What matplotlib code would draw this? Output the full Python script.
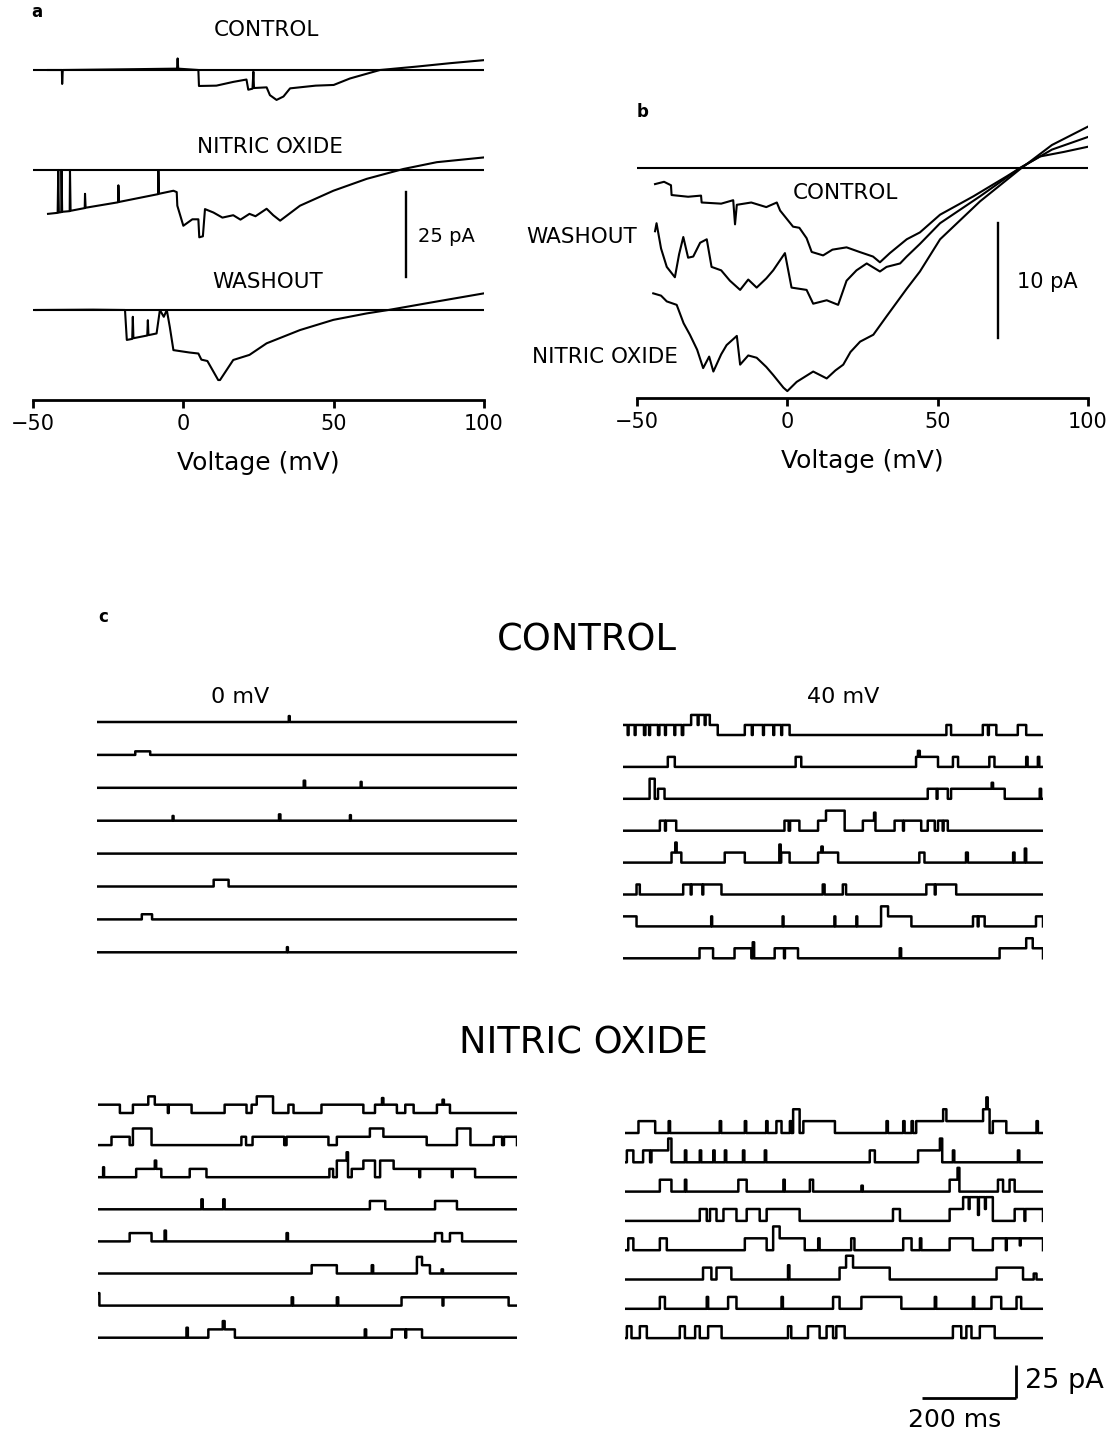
import matplotlib
matplotlib.use("Agg")
import matplotlib.pyplot as plt
import numpy as np

plt.rcParams['font.family'] = ['DejaVu Sans']

# ---------------- data ----------------
# panel a: ramp currents (mV, pA relative to the zero line)
a_ctrl_v = [-45, -40.4, -40.3, -40.1, -20, -2.1, -1.9, -1.7, 5.0, 5.2, 11, 16.6, 21.0, 21.6, 23.0, 23.3, 23.5,
            27.7, 28.8, 31.0, 33.3, 35.5, 44, 50, 55.4, 65.4, 77.6, 88.7, 100]
a_ctrl_i = [0, 0, -4.1, 0, 0.2, 0.4, 3.4, 0.4, 0, -4.7, -4.6, -3.5, -2.8, -5.8, -5.5, -0.5, -5.3,
            -5.1, -7.4, -8.8, -7.8, -5.4, -4.6, -4.4, -2.5, 0, 1.0, 2.0, 2.9]
a_no_v = [-45, -41.8, -41.6, -41.4, -40.6, -40.5, -40.3, -37.8, -37.7, -37.5, -32.8, -32.7, -32.5, -21.7, -21.6,
          -21.4, -8.4, -8.3, -8.1, -3.3, -2.2, -2.0, 0, 3, 5.0, 5.3, 6.5, 7.2, 10, 13, 16.6, 19, 22, 24, 27.7,
          29.9, 32.2, 38.8, 49.9, 61, 73.2, 84.3, 100]
a_no_i = [-12.9, -12.6, 0, -12.5, -12.4, 0, -12.3, -12.1, 0, -12.0, -11.2, -7, -11.1, -9.5, -4.5,
          -9.4, -7.1, -0.3, -7.0, -6.1, -6.5, -10.5, -16.4, -14.5, -14.5, -19.8, -19.5, -11.5, -12.5, -14.0, -13.3,
          -14.6, -12.9, -13.6, -11.4, -13.3, -14.9, -10.5, -6.1, -2.6, 0.3, 2.3, 3.7]
a_wash_v = [-49, -30, -19.4, -18.8, -17, -16.8, -16.6, -12, -11.8, -11.6, -8.9, -7.8, -6.5, -5.5, -4.5, -3.3,
            2, 5, 6.0, 8, 11.6, 12.2, 16.6, 22, 27.7, 38.8, 49.9, 61, 68.2, 84.3, 100]
a_wash_i = [0, 0.1, 0, -8.8, -8.5, -2, -8.3, -7.5, -3, -7.4, -6.9, 0, -2, 0, -5, -11.8,
            -12.5, -12.8, -14.6, -15, -20.6, -20.6, -14.7, -13.2, -9.8, -5.9, -2.9, -1.0, 0, 2.5, 4.9]

# panel b: averaged ramp currents
b_ctrl_v = [-44.0, -41, -38.7, -38.5, -33, -28.7, -28.5, -22, -18.0, -17.4, -16.8, -12, -7, -3.5, -2.4, 1.9, 4,
            6.4, 8.1, 11.9, 15, 19.7, 24, 28.5, 30.8, 34.1, 39.7, 44.1, 50.8, 61.9, 73, 77.4, 84, 92, 100]
b_ctrl_i = [-1.4, -1.2, -1.5, -2.35, -2.5, -2.4, -3.0, -3.1, -2.8, -4.9, -3.2, -3.0, -3.4, -3.0, -3.7, -5.1, -5.2,
            -6.1, -7.3, -7.6, -7.1, -6.9, -7.3, -7.7, -8.2, -7.4, -6.2, -5.6, -4.06, -2.46, -0.72, 0, 1.0, 1.4, 1.85]
b_wash_v = [-44.0, -43.5, -42, -40.1, -37.4, -36, -34.6, -33, -31.3, -29, -26.8, -25.2, -22, -19.1, -15.7, -13,
            -10.2, -7, -4.7, -0.8, 1.4, 6.4, 8.6, 13.1, 16.9, 19.7, 23, 26.4, 30.8, 33, 37.5, 39.7, 44.1, 50.8,
            64.1, 77.4, 88, 100]
b_wash_i = [-5.5, -4.8, -7.0, -8.6, -9.5, -7.5, -6.0, -7.8, -7.7, -6.5, -6.2, -8.6, -8.9, -9.8, -10.6, -9.7,
            -10.4, -9.6, -8.9, -7.4, -10.4, -10.6, -11.8, -11.5, -11.9, -9.8, -8.9, -8.3, -9.0, -8.6, -8.3, -7.7,
            -6.6, -4.8, -2.46, 0, 1.6, 2.7]
b_no_v = [-44.6, -42, -40.1, -36.8, -34.5, -32.4, -30, -28.0, -26, -24.6, -22, -20.2, -16.8, -15.7, -13, -10.2,
          -7, -4.7, -1.3, 0, 3.1, 8.6, 13.1, 16, 18.6, 21, 24.2, 28.6, 33.0, 39.7, 44.1, 50.8, 64.1, 77.4, 88, 100]
b_no_i = [-10.9, -11.1, -11.6, -11.9, -13.5, -14.5, -15.8, -17.4, -16.4, -17.7, -16.2, -15.4, -14.6, -17.1, -16.3,
          -16.5, -17.3, -18.0, -19.1, -19.4, -18.6, -17.7, -18.3, -17.6, -17.1, -16.0, -15.1, -14.5, -12.9, -10.5,
          -9.0, -6.2, -2.9, -0.1, 2.0, 3.6]

# panel c: single-channel sweeps, events (start ms, end ms, level in unitary openings)
ctrl_0mv_events = [
    [(411, 413, 1.5)],
    [(82, 114, 0.9)],
    [(443, 446, 1.8), (565, 567, 1.5)],
    [(162, 164, 1.2), (390, 393, 1.6), (542, 544, 1.4)],
    [],
    [(250, 282, 1.7)],
    [(96, 118, 1.3)],
    [(407, 409, 1.3)],
]
ctrl_40mv_events = [
    [(0, 146, 1), (10, 12, 0), (25, 27, 0), (45, 48, 0), (56, 58, 0), (75, 78, 0), (90, 92, 0), (110, 112, 0),
     (126, 129, 0), (146, 186, 2), (160, 162, 1), (175, 177, 1), (186, 203, 1), (261, 339, 1), (276, 278, 0),
     (300, 302, 0), (322, 324, 0), (341, 357, 1), (693, 703, 1), (771, 800, 1), (782, 784, 0), (846, 864, 1)],
    [(96, 111, 1), (370, 382, 1), (628, 675, 1), (632, 636, 1.6), (707, 718, 1), (785, 796, 1), (864, 867, 1),
     (889, 892, 1)],
    [(57, 68, 2), (75, 89, 1), (653, 696, 1), (672, 674, 0), (703, 818, 1), (790, 793, 1.6), (893, 896, 1)],
    [(79, 114, 1), (90, 92, 0), (346, 378, 1), (355, 358, 0), (418, 435, 1), (435, 475, 2), (514, 539, 1),
     (538, 541, 1.8), (582, 639, 1), (600, 602, 0), (653, 668, 1), (675, 696, 1), (685, 687, 0)],
    [(104, 125, 1), (112, 115, 2), (218, 261, 1), (339, 357, 1), (335, 338, 1.8), (418, 461, 1), (425, 428, 1.6),
     (635, 646, 1), (735, 739, 1), (836, 839, 1), (861, 864, 1.4)],
    [(29, 36, 1), (129, 211, 1), (145, 147, 0), (170, 172, 0), (428, 432, 1), (471, 478, 1), (650, 714, 1),
     (668, 670, 0)],
    [(0, 29, 1), (189, 191, 1), (342, 344, 1), (453, 455, 1), (500, 502, 1), (553, 568, 2), (568, 618, 1),
     (750, 775, 1), (760, 762, 0), (885, 900, 1)],
    [(164, 193, 1), (239, 275, 1), (278, 281, 1.6), (325, 375, 1), (345, 347, 0), (593, 596, 1), (807, 864, 1),
     (864, 878, 2), (878, 900, 1)],
]
no_0mv_events = [
    [(0, 47, 1), (47, 50, 0), (60, 65, 0), (75, 108, 1), (108, 122, 2), (122, 201, 1), (150, 152, 0),
     (272, 319, 1), (330, 341, 1), (341, 376, 2), (409, 420, 1), (480, 570, 1), (595, 642, 1), (610, 613, 1.8),
     (660, 678, 1), (728, 756, 1), (740, 743, 1.6)],
    [(29, 68, 1), (75, 115, 2), (308, 318, 1), (332, 400, 1), (405, 495, 1), (513, 584, 1), (584, 613, 2),
     (613, 706, 1), (771, 800, 2), (850, 868, 1), (872, 900, 1)],
    [(11, 13, 1.2), (82, 136, 1), (122, 125, 2), (197, 233, 1), (497, 505, 1), (513, 534, 2), (534, 537, 3),
     (545, 570, 1), (570, 595, 2), (606, 635, 2), (635, 810, 1), (690, 692, 0), (760, 762, 0)],
    [(222, 225, 1.2), (269, 272, 1.2), (584, 617, 1), (724, 771, 1)],
    [(68, 115, 1), (143, 146, 1.3), (405, 408, 1), (724, 739, 1), (756, 782, 1)],
    [(459, 513, 1), (588, 591, 1), (685, 696, 2), (696, 713, 1), (738, 741, 0.5)],
    [(0, 3, 1.5), (416, 419, 1), (513, 516, 1), (652, 667, 1), (667, 882, 1), (740, 742, 0)],
    [(190, 193, 1.2), (237, 294, 1), (268, 272, 2), (573, 576, 1), (631, 696, 1), (660, 662, 0)],
]
no_40mv_events = [
    [(29, 65, 1), (94, 97, 1), (204, 207, 1), (258, 261, 1), (304, 307, 1), (326, 337, 1), (355, 358, 1),
     (362, 376, 2), (384, 452, 1), (563, 566, 1), (599, 602, 1), (617, 620, 1), (627, 685, 1), (685, 692, 2),
     (692, 771, 1), (771, 785, 2), (778, 781, 3), (792, 821, 1), (886, 889, 1)],
    [(4, 18, 1), (39, 54, 1), (57, 93, 1), (93, 100, 2), (129, 132, 1), (161, 164, 1), (190, 193, 1),
     (215, 218, 1), (254, 257, 1), (301, 304, 1), (527, 538, 1), (631, 678, 1), (678, 683, 2), (706, 709, 1),
     (846, 849, 1)],
    [(75, 100, 1), (129, 132, 1), (244, 262, 1), (341, 344, 1), (398, 405, 1), (509, 512, 0.5), (699, 720, 1),
     (716, 720, 2), (803, 814, 1), (828, 839, 1)],
    [(161, 176, 1), (183, 197, 1), (212, 240, 1), (262, 290, 1), (305, 376, 1), (577, 592, 1), (699, 728, 1),
     (728, 792, 2), (740, 742, 1), (760, 762, 0.5), (775, 777, 1), (839, 900, 1), (860, 862, 0)],
    [(7, 18, 1), (75, 90, 1), (258, 305, 1), (319, 333, 2), (333, 387, 1), (416, 419, 1), (487, 494, 1),
     (599, 617, 1), (635, 638, 1), (699, 749, 1), (792, 900, 1), (820, 822, 0), (850, 852, 0.4)],
    [(168, 186, 1), (197, 229, 1), (351, 354, 1.2), (462, 476, 1), (476, 491, 2), (491, 570, 1), (800, 857, 1),
     (880, 886, 0.5)],
    [(75, 86, 1), (176, 179, 1), (222, 240, 1), (337, 340, 1), (448, 462, 1), (509, 595, 1), (667, 670, 1),
     (749, 752, 1), (789, 810, 1), (843, 853, 1)],
    [(4, 14, 1), (32, 47, 1), (118, 129, 1), (151, 161, 1), (179, 208, 1), (351, 358, 1), (394, 419, 1),
     (434, 448, 1), (455, 473, 1), (706, 724, 1), (735, 746, 1), (764, 796, 1)],
]
unit_pA = {'ctrl0': 3.0, 'ctrl40': 7.6, 'no0': 6.3, 'no40': 9.0}
sweep_ms = 900

# ---------------- layout helpers ----------------
W, H = 1114, 1433
fig = plt.figure(figsize=(W / 100, H / 100), dpi=100)
LW = 1.5
LABEL_FS = 15.5


def px_axes(l, t, r, b):
    return fig.add_axes([l / W, 1 - b / H, (r - l) / W, (b - t) / H])


def ftext(x, y, s, **kw):
    fig.text(x / W, 1 - y / H, s, **kw)


def iv_axes(l, t, r, b, pxpa):
    ax = px_axes(l, t, r, b)
    ax.set_xlim(-50, 100)
    ax.set_ylim(0, (b - t) / pxpa)
    for s in ['top', 'right', 'left']:
        ax.spines[s].set_visible(False)
    ax.spines['bottom'].set_linewidth(2.0)
    ax.set_xticks([-50, 0, 50, 100])
    ax.set_yticks([])
    ax.tick_params(axis='x', direction='out', length=6, width=2.0, labelsize=15, pad=4)
    ax.set_xlabel('Voltage (mV)', fontsize=18, labelpad=12)
    ax.patch.set_alpha(0)
    return ax


# ---------------- panel a ----------------
pxa = 3.4
axa = iv_axes(33, 20, 484, 400, pxa)
a_offsets = [(400 - 70) / pxa, (400 - 170) / pxa, (400 - 310) / pxa]
a_label_pos = [(27.5, (400 - 30) / pxa), (28.8, (400 - 147) / pxa), (28.1, (400 - 282) / pxa)]
for off, vv, ii, lab, (lx, ly) in zip(a_offsets, [a_ctrl_v, a_no_v, a_wash_v], [a_ctrl_i, a_no_i, a_wash_i],
                                      ['CONTROL', 'NITRIC OXIDE', 'WASHOUT'], a_label_pos):
    axa.plot([-50, 100], [off, off], color='k', lw=LW)
    axa.plot(vv, np.array(ii) + off, color='k', lw=LW)
    axa.text(lx, ly, lab, ha='center', va='center', fontsize=LABEL_FS)
axa.plot([74, 74], [36.2, 61.2], color='k', lw=1.7, clip_on=False)
axa.text(78, 48.2, '25 pA', ha='left', va='center', fontsize=14)
ftext(37, 12, 'a', fontsize=12, fontweight='bold', ha='center', va='center')

# ---------------- panel b ----------------
pxb = 11.5
axb = iv_axes(637, 110, 1088, 398, pxb)
b_off = (398 - 168) / pxb
axb.plot([-50, 100], [b_off, b_off], color='k', lw=LW)
for vv, ii in [(b_ctrl_v, b_ctrl_i), (b_wash_v, b_wash_i), (b_no_v, b_no_i)]:
    axb.plot(vv, np.array(ii) + b_off, color='k', lw=LW)
axb.text(19.2, (398 - 193) / pxb, 'CONTROL', ha='center', va='center', fontsize=LABEL_FS)
axb.text(-68.3, (398 - 237) / pxb, 'WASHOUT', ha='center', va='center', fontsize=LABEL_FS, clip_on=False)
axb.text(-60.6, (398 - 357) / pxb, 'NITRIC OXIDE', ha='center', va='center', fontsize=LABEL_FS, clip_on=False)
axb.plot([70, 70], [(398 - 338) / pxb, (398 - 223) / pxb], color='k', lw=1.7)
axb.text(76.4, (398 - 282) / pxb, '10 pA', ha='left', va='center', fontsize=15)
ftext(643, 112, 'b', fontsize=12, fontweight='bold', ha='center', va='center')

# ---------------- panel c ----------------
pxc = 1.32  # px per pA
tgrid = np.arange(0, sweep_ms + 0.5, 0.5)


def sweep(events, amp):
    y = np.zeros_like(tgrid)
    for t0, t1, lev in events:
        y[(tgrid >= t0) & (tgrid < t1)] = lev * amp
    return y


def block(l, r, base0, spacing, events, amp, bottom=None):
    top = base0 - 40
    if bottom is None:
        bottom = base0 + 7 * spacing + 25
    ax = px_axes(l, top, r, bottom)
    ax.set_xlim(0, sweep_ms)
    ax.set_ylim(-(bottom - base0) / pxc, (base0 - top) / pxc)
    ax.axis('off')
    for k, ev in enumerate(events):
        off = -k * spacing / pxc
        ax.plot(tgrid, sweep(ev, amp) + off, color='k', lw=1.8, drawstyle='steps-post')
    return ax, base0


block(97, 517, 722, 32.9, ctrl_0mv_events, unit_pA['ctrl0'])
block(623, 1043, 735, 31.9, ctrl_40mv_events, unit_pA['ctrl40'])
block(98, 517, 1113, 32.1, no_0mv_events, unit_pA['no0'])
axn, b0 = block(625, 1043, 1133, 29.3, no_40mv_events, unit_pA['no40'], bottom=1433)

# scale bars 200 ms / 25 pA
y_bar = -(1398 - b0) / pxc
axn.plot([639, 842], [y_bar, y_bar], color='k', lw=2.0, solid_capstyle='butt')
axn.plot([842, 842], [y_bar, y_bar + 25], color='k', lw=2.0, solid_capstyle='butt')
axn.text(861, y_bar + 12.5, '25 pA', ha='left', va='center', fontsize=19.5, clip_on=False)
axn.text(710, -(1420 - b0) / pxc, '200 ms', ha='center', va='center', fontsize=18)

ftext(103, 617, 'c', fontsize=12, fontweight='bold', ha='center', va='center')
ftext(587, 640, 'CONTROL', fontsize=26.5, ha='center', va='center')
ftext(583, 1043, 'NITRIC OXIDE', fontsize=26.5, ha='center', va='center')
ftext(240, 697, '0 mV', fontsize=16, ha='center', va='center')
ftext(843, 697, '40 mV', fontsize=16, ha='center', va='center')

fig.savefig('out.png', dpi=100)
